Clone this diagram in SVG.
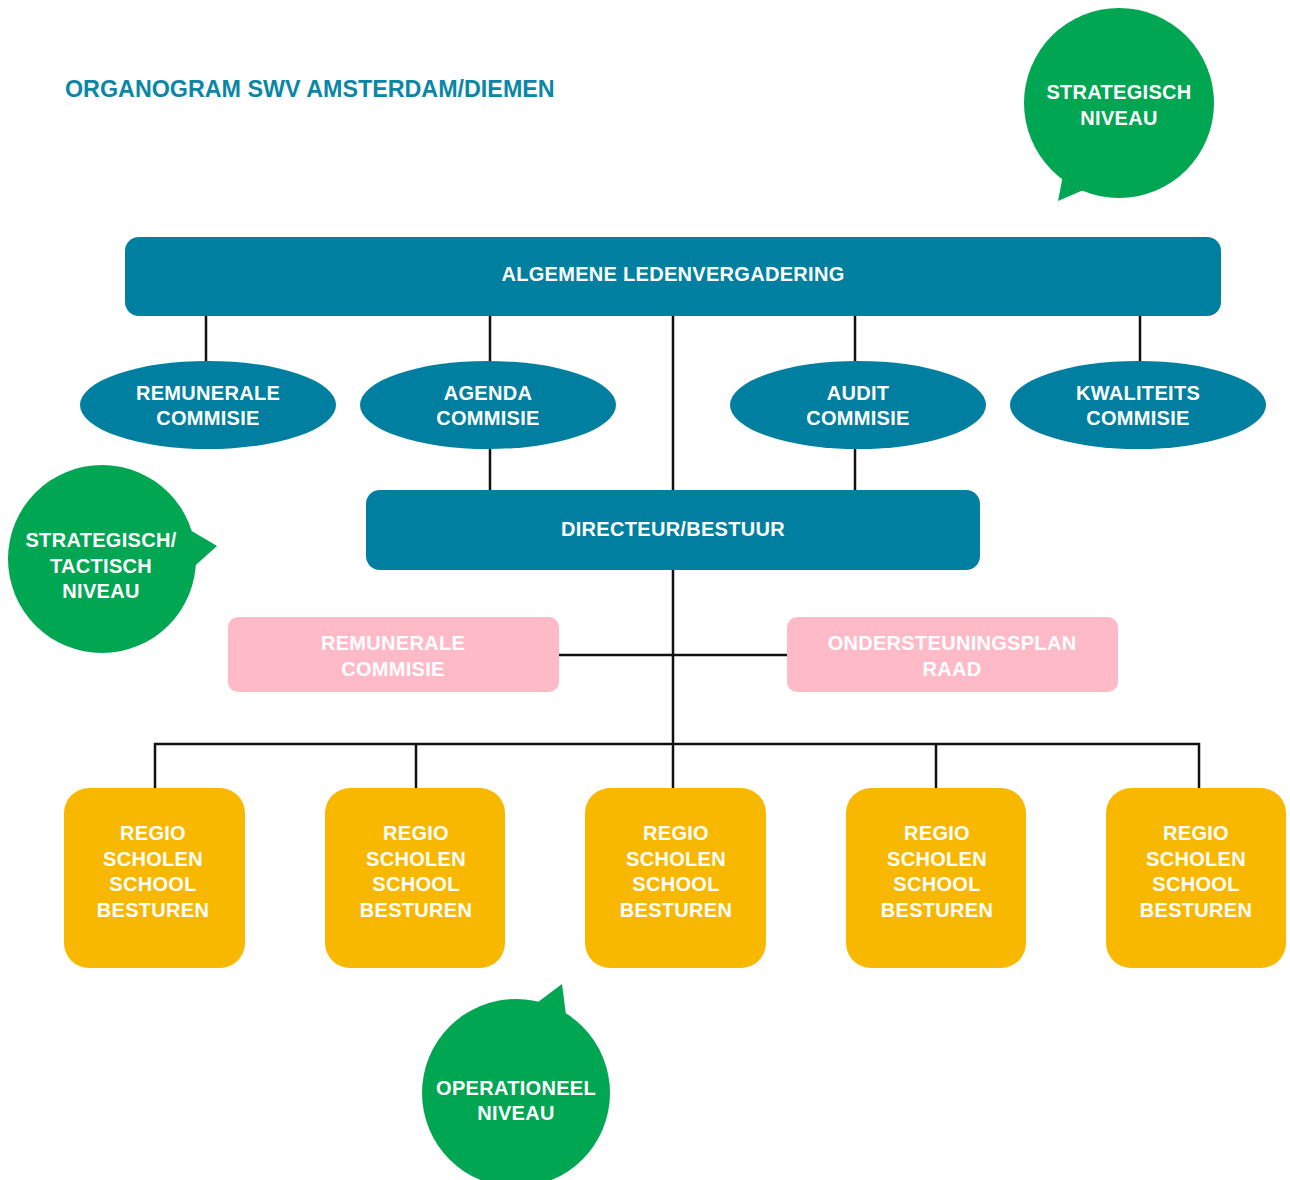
<svg xmlns="http://www.w3.org/2000/svg" width="1290" height="1180" viewBox="0 0 1290 1180">
<style>
.t{font-family:"Liberation Sans",Arial,sans-serif;font-weight:bold;fill:#fff;text-anchor:middle;font-size:20px;letter-spacing:0.3px}
.blue{fill:#007FA0}
.pink{fill:#FFBAC8}
.yel{fill:#F9B800}
.grn{fill:#00A651}
.ln{stroke:#111;stroke-width:2.5;fill:none}
</style>
<rect width="1290" height="1180" fill="#fff"/>
<text x="65" y="97" style="font-family:'Liberation Sans',Arial,sans-serif;font-weight:bold;font-size:23.3px;fill:#0A86A6">ORGANOGRAM SWV AMSTERDAM/DIEMEN</text>
<g id="connectors">
<path class="ln" d="M206 316V361M490 316V361M673 316V490M855 316V361M1140 316V361M490 449V490M855 449V490M673 570V744M559 655H787M155 788V744H1199V788M416 744V788M673 744V788M936 744V788"/>
</g>
<g id="bubble-strategisch">
<circle class="grn" cx="1119" cy="103" r="95"/>
<path class="grn" d="M1064 170L1058 201L1095 185Z"/>
<text class="t" x="1119" y="99">STRATEGISCH</text>
<text class="t" x="1119" y="125">NIVEAU</text>
</g>
<g id="alv">
<rect class="blue" x="125" y="237" width="1096" height="79" rx="14"/>
<text class="t" x="673" y="281">ALGEMENE LEDENVERGADERING</text>
</g>
<g id="remunerale-commisie">
<ellipse class="blue" cx="208" cy="405" rx="128" ry="44"/>
<text class="t" x="208" y="400">REMUNERALE</text>
<text class="t" x="208" y="425">COMMISIE</text>
</g>
<g id="agenda-commisie">
<ellipse class="blue" cx="488" cy="405" rx="128" ry="44"/>
<text class="t" x="488" y="400">AGENDA</text>
<text class="t" x="488" y="425">COMMISIE</text>
</g>
<g id="audit-commisie">
<ellipse class="blue" cx="858" cy="405" rx="128" ry="44"/>
<text class="t" x="858" y="400">AUDIT</text>
<text class="t" x="858" y="425">COMMISIE</text>
</g>
<g id="kwaliteits-commisie">
<ellipse class="blue" cx="1138" cy="405" rx="128" ry="44"/>
<text class="t" x="1138" y="400">KWALITEITS</text>
<text class="t" x="1138" y="425">COMMISIE</text>
</g>
<g id="bubble-tactisch">
<circle class="grn" cx="102" cy="559" r="94"/>
<path class="grn" d="M190 530L217 546L188 572Z"/>
<text class="t" x="101" y="547">STRATEGISCH/</text>
<text class="t" x="101" y="573">TACTISCH</text>
<text class="t" x="101" y="598">NIVEAU</text>
</g>
<g id="directeur">
<rect class="blue" x="366" y="490" width="614" height="80" rx="14"/>
<text class="t" x="673" y="536">DIRECTEUR/BESTUUR</text>
</g>
<g id="remunerale-pink">
<rect class="pink" x="228" y="617" width="331" height="75" rx="10"/>
<text class="t" x="393" y="650">REMUNERALE</text>
<text class="t" x="393" y="676">COMMISIE</text>
</g>
<g id="osp-raad">
<rect class="pink" x="787" y="617" width="331" height="75" rx="10"/>
<text class="t" x="952" y="650">ONDERSTEUNINGSPLAN</text>
<text class="t" x="952" y="676">RAAD</text>
</g>
<g id="regio1">
<rect class="yel" x="64" y="788" width="181" height="180" rx="25"/>
<text class="t" x="153" y="840">REGIO</text><text class="t" x="153" y="866">SCHOLEN</text><text class="t" x="153" y="891">SCHOOL</text><text class="t" x="153" y="917">BESTUREN</text>
</g>
<g id="regio2">
<rect class="yel" x="325" y="788" width="180" height="180" rx="25"/>
<text class="t" x="416" y="840">REGIO</text><text class="t" x="416" y="866">SCHOLEN</text><text class="t" x="416" y="891">SCHOOL</text><text class="t" x="416" y="917">BESTUREN</text>
</g>
<g id="regio3">
<rect class="yel" x="585" y="788" width="181" height="180" rx="25"/>
<text class="t" x="676" y="840">REGIO</text><text class="t" x="676" y="866">SCHOLEN</text><text class="t" x="676" y="891">SCHOOL</text><text class="t" x="676" y="917">BESTUREN</text>
</g>
<g id="regio4">
<rect class="yel" x="846" y="788" width="180" height="180" rx="25"/>
<text class="t" x="937" y="840">REGIO</text><text class="t" x="937" y="866">SCHOLEN</text><text class="t" x="937" y="891">SCHOOL</text><text class="t" x="937" y="917">BESTUREN</text>
</g>
<g id="regio5">
<rect class="yel" x="1106" y="788" width="180" height="180" rx="25"/>
<text class="t" x="1196" y="840">REGIO</text><text class="t" x="1196" y="866">SCHOLEN</text><text class="t" x="1196" y="891">SCHOOL</text><text class="t" x="1196" y="917">BESTUREN</text>
</g>
<g id="bubble-operationeel">
<circle class="grn" cx="516" cy="1093" r="94"/>
<path class="grn" d="M538 1002L562 984L566 1015Z"/>
<text class="t" x="516" y="1095">OPERATIONEEL</text>
<text class="t" x="516" y="1120">NIVEAU</text>
</g>
</svg>
